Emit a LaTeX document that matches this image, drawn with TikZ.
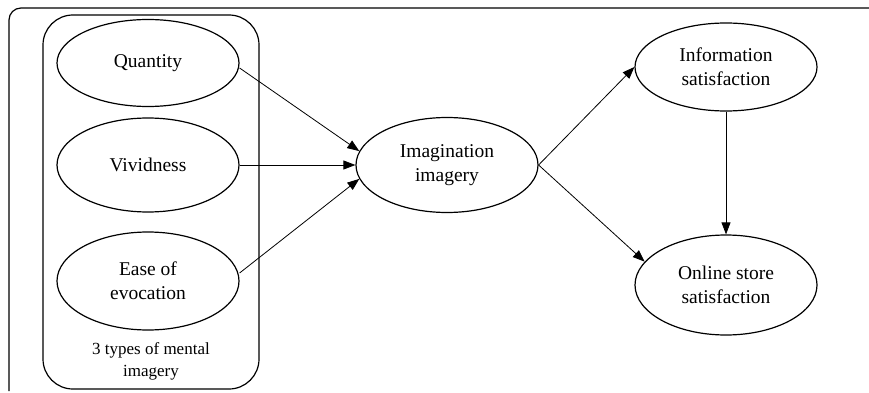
\documentclass[tikz,border=0pt]{standalone}
\usepackage{fontspec}
\setmainfont{Liberation Serif}
\newfontfamily\labelfont{Liberation Serif}
\usetikzlibrary{shapes.geometric,arrows.meta}
\begin{document}
\begin{tikzpicture}[x=1pt,y=-1pt,
  construct/.style={draw,line width=1.2pt,ellipse,minimum width=#1,align=center,
    font=\labelfont\fontsize{19.5}{24}\selectfont,inner sep=0pt},
  construct/.default={182pt},
  link/.style={line width=0.8pt,-{Triangle[length=12pt,width=9pt]}},
  frame/.style={line width=1.2pt}]
\useasboundingbox (0,0) rectangle (869,393);
% outer frame (open to the right and bottom)
\draw[frame,rounded corners=12pt] (9,391) -- (9,8) -- (869,8);
% group of the three imagery dimensions
\draw[frame,rounded corners=30pt] (43,15) rectangle (259,389);
\node[font=\labelfont\fontsize{17}{22}\selectfont,align=center] (grp) at (151,361) {3 types of mental\\imagery};
% constructs
\node[construct,minimum height=87pt] (qty) at (148,63) {Quantity};
\node[construct,minimum height=94pt] (viv) at (148,165) {Vividness};
\node[construct,minimum height=98pt] (ease) at (148,281) {Ease of\\evocation};
\node[construct,minimum height=95pt] (img) at (447,165) {Imagination\\imagery};
\node[construct,minimum height=88pt] (info) at (726,67) {Information\\satisfaction};
\node[construct,minimum height=100pt] (store) at (726,285) {Online store\\satisfaction};
% paths
\draw[link] (qty.east) ++(0,5) coordinate (q1) (q1) -- (img.171);
\draw[link] (viv.east) -- (img.west);
\draw[link] (ease.east) ++(0,-8) coordinate (e1) (e1) -- (img.189);
\draw[link] (img.east) -- (info.west);
\draw[link] (img.east) -- (store.164);
\draw[link] (info.south) -- (store.north);
\end{tikzpicture}
\end{document}
